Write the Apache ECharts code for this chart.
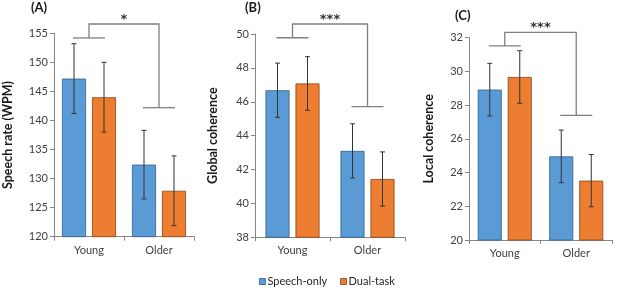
<!DOCTYPE html>
<html>
<head>
    <meta charset="utf-8">
    <title>Speech measures</title>
    <script src="https://cdn.jsdelivr.net/npm/echarts@6/dist/echarts.min.js"></script>
    <style>
        html, body { margin: 0; padding: 0; background: #fff; }
        #chart { width: 617px; height: 288px; }
    </style>
</head>
<body>
<div id="chart"></div>
<script type="text/javascript">
    // 数据
    var categories = ['Young', 'Older'];
    var seriesNames = ['Speech-only', 'Dual-task'];

    // (A) speech rate
    var rateSpeech = [147.2, 132.4];
    var rateDual = [144.0, 127.9];
    var rateSpeechErr = [6.0, 5.9];
    var rateDualErr = [6.0, 6.0];
    var rateTicks = [120, 155, 5];
    var rateBracket = [156.6, 154.2, 142.2];

    // (B) global coherence
    var globalSpeech = [46.68, 43.1];
    var globalDual = [47.08, 41.44];
    var globalSpeechErr = [1.6, 1.6];
    var globalDualErr = [1.58, 1.6];
    var globalTicks = [38, 50, 2];
    var globalBracket = [50.59, 49.78, 45.71];

    // (C) local coherence
    var localSpeech = [28.92, 24.96];
    var localDual = [29.67, 23.52];
    var localSpeechErr = [1.56, 1.56];
    var localDualErr = [1.56, 1.55];
    var localTicks = [20, 32, 2];
    var localBracket = [32.32, 31.51, 27.39];

    var stars = ['*', '***', '***'];
    var panelLabels = ['(A)', '(B)', '(C)'];
    var axisTitles = ['Speech rate (WPM)', 'Global coherence', 'Local coherence'];

    var BLUE = '#5B9BD5', ORANGE = '#ED7D31';
    var FONT = 'Lato';

    var panels = [
        {speech: rateSpeech, dual: rateDual, se: rateSpeechErr, de: rateDualErr, ticks: rateTicks, br: rateBracket,
            grid: {left: 47, top: 33.3, width: 147, height: 203.4}},
        {speech: globalSpeech, dual: globalDual, se: globalSpeechErr, de: globalDualErr, ticks: globalTicks, br: globalBracket,
            grid: {left: 255, top: 34, width: 150, height: 203.3}},
        {speech: localSpeech, dual: localDual, se: localSpeechErr, de: localDualErr, ticks: localTicks, br: localBracket,
            grid: {left: 469, top: 37.7, width: 143, height: 202.3}}
    ];

    var grids = [], xAxes = [], yAxes = [], series = [];

    // 误差线
    function errRender(params, api) {
        var off = api.value(3) * 15;
        var lo = api.coord([api.value(0), api.value(1)]);
        var hi = api.coord([api.value(0), api.value(2)]);
        var x = lo[0] + off;
        var st = {stroke: '#333', lineWidth: 1};
        return {type: 'group', children: [
            {type: 'line', shape: {x1: x, y1: lo[1], x2: x, y2: hi[1]}, style: st},
            {type: 'line', shape: {x1: x - 2.5, y1: lo[1], x2: x + 2.5, y2: lo[1]}, style: st},
            {type: 'line', shape: {x1: x - 2.5, y1: hi[1], x2: x + 2.5, y2: hi[1]}, style: st}
        ]};
    }

    // 显著性括号
    function bracketRender(label) {
        return function (params, api) {
            var top = api.value(0), l = api.value(1), r = api.value(2);
            var pTopL = api.coord([0, top]), pTopR = api.coord([1, top]);
            var pL = api.coord([0, l]), pR = api.coord([1, r]);
            var st = {stroke: '#808080', lineWidth: 1.3, fill: null};
            return {type: 'group', children: [
                {type: 'polyline', shape: {points: [[pL[0], pL[1]], [pTopL[0], pTopL[1]], [pTopR[0], pTopR[1]], [pR[0], pR[1]]]}, style: st},
                {type: 'line', shape: {x1: pL[0] - 16, y1: pL[1], x2: pL[0] + 16, y2: pL[1]}, style: st},
                {type: 'line', shape: {x1: pR[0] - 16, y1: pR[1], x2: pR[0] + 16, y2: pR[1]}, style: st},
                {type: 'text', x: (pTopL[0] + pTopR[0]) / 2, y: pTopL[1] + 2,
                    style: {text: label, fill: '#333', font: 'bold 13px "DejaVu Sans"', align: 'center', verticalAlign: 'bottom'}}
            ]};
        };
    }

    panels.forEach(function (p, i) {
        grids.push(Object.assign({containLabel: false}, p.grid));
        xAxes.push({
            type: 'category', gridIndex: i, data: categories,
            axisLine: {lineStyle: {color: '#868686', width: 1}},
            axisTick: {show: true, alignWithLabel: false, length: 4, lineStyle: {color: '#868686'}},
            axisLabel: {color: '#404040', fontFamily: FONT, fontSize: 11, margin: 8}
        });
        yAxes.push({
            type: 'value', gridIndex: i, min: p.ticks[0], max: p.ticks[1], interval: p.ticks[2],
            name: axisTitles[i], nameLocation: 'middle', nameGap: [40, 36, 34][i],
            nameTextStyle: {fontFamily: FONT, fontWeight: 'bold', fontSize: 12.5, color: '#1a1a1a'},
            axisLine: {show: true, lineStyle: {color: '#868686', width: 1}},
            axisTick: {show: true, length: 4, lineStyle: {color: '#868686'}},
            axisLabel: {color: '#404040', fontFamily: FONT, fontSize: 11, margin: 6},
            splitLine: {show: false}
        });
        series.push({
            name: seriesNames[0], type: 'bar', xAxisIndex: i, yAxisIndex: i, data: p.speech,
            barWidth: 24, barGap: '25%',
            itemStyle: {color: BLUE, borderColor: '#2f5f8c', borderWidth: 0.8}
        });
        series.push({
            name: seriesNames[1], type: 'bar', xAxisIndex: i, yAxisIndex: i, data: p.dual,
            barWidth: 24, barGap: '25%',
            itemStyle: {color: ORANGE, borderColor: '#8a4317', borderWidth: 0.8}
        });
        var errData = [];
        for (var k = 0; k < categories.length; k++) {
            errData.push([k, p.speech[k] - p.se[k], p.speech[k] + p.se[k], -1]);
            errData.push([k, p.dual[k] - p.de[k], p.dual[k] + p.de[k], 1]);
        }
        series.push({
            type: 'custom', xAxisIndex: i, yAxisIndex: i, data: errData, z: 5, clip: false,
            silent: true, renderItem: errRender, encode: {x: 0, y: [1, 2]}
        });
        series.push({
            type: 'custom', xAxisIndex: i, yAxisIndex: i, data: [p.br], z: 5, clip: false,
            silent: true, renderItem: bracketRender(stars[i]), encode: {y: [0, 1, 2]}
        });
    });

    // 面板标签
    var labelPos = [[31, 1], [245, 1], [455, 9]];
    var graphics = panelLabels.map(function (t, i) {
        return {type: 'text', left: labelPos[i][0], top: labelPos[i][1],
            style: {text: t, font: 'bold 13px ' + FONT, fill: '#1a1a1a'}};
    });

    var myChart = echarts.init(document.getElementById('chart'), null, {renderer: 'canvas'});
    myChart.setOption({
        animation: false,
        graphic: graphics,
        legend: {
            data: seriesNames, left: 259, top: 276, padding: 0, icon: 'rect', itemWidth: 6, itemHeight: 6, itemGap: 13,
            textStyle: {fontFamily: FONT, fontSize: 11, color: '#262626', padding: [0, 0, 0, -3]},
            itemStyle: {borderWidth: 0.8}
        },
        grid: grids,
        xAxis: xAxes,
        yAxis: yAxes,
        series: series
    });
</script>
</body>
</html>
